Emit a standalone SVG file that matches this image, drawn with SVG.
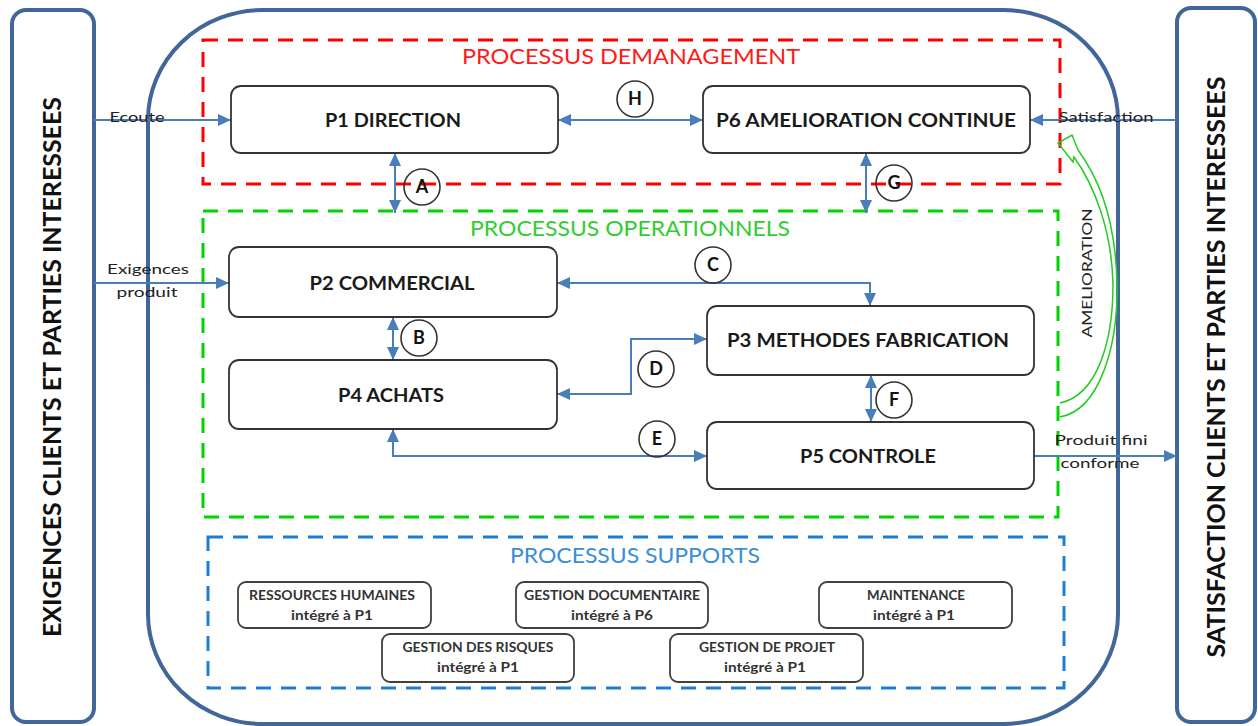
<svg xmlns="http://www.w3.org/2000/svg" width="1258" height="726" viewBox="0 0 1258 726">
<style>
  .panel{fill:#fff;stroke:#41679a;stroke-width:4}
  .node{fill:#fff;stroke:#333;stroke-width:1.8}
  .sup{fill:#fff;stroke:#404040;stroke-width:1.8}
  .nt{font-family:Lato,"Liberation Sans",sans-serif;font-weight:bold;font-size:18px;fill:#1a1a1a;text-anchor:middle}
  .st{font-family:Lato,"Liberation Sans",sans-serif;font-weight:bold;font-size:12.5px;fill:#333;text-anchor:middle}
  .lbl{font-family:Lato,"Liberation Sans",sans-serif;font-size:14px;fill:#222;text-anchor:middle}
  .ttl{font-family:Lato,"Liberation Sans",sans-serif;font-size:21px;text-anchor:middle}
  .side{font-family:Lato,"Liberation Sans",sans-serif;font-weight:bold;font-size:25px;fill:#111;text-anchor:middle}
  .conn{fill:none;stroke:#4a7ebb;stroke-width:2}
  .circ{fill:none;stroke:#333;stroke-width:1.6}
  .ct{font-family:Lato,"Liberation Sans",sans-serif;font-weight:bold;font-size:18px;fill:#111;text-anchor:middle}
</style>
<defs>
  <marker id="ah" markerUnits="userSpaceOnUse" markerWidth="13" markerHeight="12" refX="13" refY="6" orient="auto-start-reverse">
    <path d="M0,0 L13,6 L0,12 z" fill="#4a7ebb"/>
  </marker>
</defs>
<rect width="1258" height="726" fill="#fff"/>

<g id="panel-left">
  <rect class="panel" x="12" y="10" width="82" height="712" rx="14"/>
  <text class="side" transform="translate(61,367) rotate(-90)" textLength="540" lengthAdjust="spacingAndGlyphs">EXIGENCES CLIENTS ET PARTIES INTERESSEES</text>
</g>
<g id="panel-right">
  <rect class="panel" x="1177" y="8" width="78" height="714" rx="14"/>
  <text class="side" transform="translate(1225,367) rotate(-90)" textLength="581" lengthAdjust="spacingAndGlyphs">SATISFACTION CLIENTS ET PARTIES INTERESSEES</text>
</g>
<g id="main-border">
  <rect class="panel" x="148" y="10" width="970" height="714" rx="115" ry="110" fill="none"/>
</g>

<g id="group-management">
  <rect x="203" y="40" width="857" height="144" fill="none" stroke="#ff0000" stroke-width="3" stroke-dasharray="15,10"/>
  <text class="ttl" x="631" y="64" fill="#ff1a1a" textLength="338" lengthAdjust="spacingAndGlyphs">PROCESSUS DEMANAGEMENT</text>
</g>
<g id="group-operationnels">
  <rect x="203" y="211" width="855" height="306" fill="none" stroke="#00d400" stroke-width="3" stroke-dasharray="15,10"/>
  <text class="ttl" x="630" y="236" fill="#33cc33" textLength="320" lengthAdjust="spacingAndGlyphs">PROCESSUS OPERATIONNELS</text>
</g>
<g id="group-supports">
  <rect x="208" y="537" width="856" height="151" fill="none" stroke="#1a7fd4" stroke-width="3" stroke-dasharray="15,10"/>
  <text class="ttl" x="635" y="563" fill="#3a8ed6" textLength="250" lengthAdjust="spacingAndGlyphs">PROCESSUS SUPPORTS</text>
</g>

<g id="connectors">
  <line class="conn" x1="94" y1="120" x2="231" y2="120" marker-end="url(#ah)"/>
  <line class="conn" x1="94" y1="283" x2="229" y2="283" marker-end="url(#ah)"/>
  <line class="conn" x1="1177" y1="120" x2="1030" y2="120" marker-end="url(#ah)"/>
  <line class="conn" x1="1034" y1="456" x2="1177" y2="456" marker-end="url(#ah)"/>
  <line class="conn" x1="558" y1="120" x2="703" y2="120" marker-start="url(#ah)" marker-end="url(#ah)"/>
  <line class="conn" x1="395" y1="153" x2="395" y2="213" marker-start="url(#ah)" marker-end="url(#ah)"/>
  <line class="conn" x1="866" y1="153" x2="866" y2="213" marker-start="url(#ah)" marker-end="url(#ah)"/>
  <line class="conn" x1="393" y1="317" x2="393" y2="360" marker-start="url(#ah)" marker-end="url(#ah)"/>
  <line class="conn" x1="871" y1="375" x2="871" y2="422" marker-start="url(#ah)" marker-end="url(#ah)"/>
  <polyline class="conn" points="557,283 870,283 870,306" marker-start="url(#ah)" marker-end="url(#ah)"/>
  <polyline class="conn" points="557,394 631,394 631,339 707,339" marker-start="url(#ah)" marker-end="url(#ah)"/>
  <polyline class="conn" points="393,429 393,456 707,456" marker-start="url(#ah)" marker-end="url(#ah)"/>
  <path d="M1060 417 C1100 410 1118 345 1117 285 C1116 220 1098 177 1078 150 L1072 135 L1058 143 L1073 162 L1074 157 C1094 185 1112 230 1113 285 C1113 340 1098 395 1060 403" fill="none" stroke="#22cc22" stroke-width="1.5"/>
  <text class="lbl" x="137" y="122" textLength="55" lengthAdjust="spacingAndGlyphs">Ecoute</text>
  <text class="lbl" x="148" y="274" textLength="82" lengthAdjust="spacingAndGlyphs">Exigences</text>
  <text class="lbl" x="147" y="297" textLength="61" lengthAdjust="spacingAndGlyphs">produit</text>
  <text class="lbl" x="1106" y="122" textLength="95" lengthAdjust="spacingAndGlyphs">Satisfaction</text>
  <text class="lbl" x="1101" y="445" textLength="93" lengthAdjust="spacingAndGlyphs">Produit fini</text>
  <text class="lbl" x="1100" y="468" textLength="79" lengthAdjust="spacingAndGlyphs">conforme</text>
  <text class="lbl" transform="translate(1092,273) rotate(-90)" textLength="129" lengthAdjust="spacingAndGlyphs">AMELIORATION</text>
  <g id="marks">
    <circle class="circ" cx="635" cy="99" r="18"/><text class="ct" x="635" y="105">H</text>
    <circle class="circ" cx="422" cy="187" r="18"/><text class="ct" x="422" y="193">A</text>
    <circle class="circ" cx="894" cy="183" r="18"/><text class="ct" x="894" y="189">G</text>
    <circle class="circ" cx="419" cy="338" r="18"/><text class="ct" x="419" y="344">B</text>
    <circle class="circ" cx="713" cy="265" r="18"/><text class="ct" x="713" y="271">C</text>
    <circle class="circ" cx="656" cy="369" r="18"/><text class="ct" x="656" y="375">D</text>
    <circle class="circ" cx="657" cy="439" r="18"/><text class="ct" x="657" y="445">E</text>
    <circle class="circ" cx="894" cy="400" r="18"/><text class="ct" x="894" y="406">F</text>
  </g>
</g>

<g id="p1"><rect class="node" x="231" y="86" width="327" height="67" rx="10"/><text class="nt" x="393" y="127" textLength="136" lengthAdjust="spacingAndGlyphs">P1 DIRECTION</text></g>
<g id="p6"><rect class="node" x="703" y="86" width="327" height="67" rx="10"/><text class="nt" x="866" y="127" textLength="300" lengthAdjust="spacingAndGlyphs">P6 AMELIORATION  CONTINUE</text></g>
<g id="p2"><rect class="node" x="229" y="247" width="328" height="70" rx="10"/><text class="nt" x="392" y="290" textLength="165" lengthAdjust="spacingAndGlyphs">P2 COMMERCIAL</text></g>
<g id="p4"><rect class="node" x="229" y="360" width="328" height="69" rx="10"/><text class="nt" x="391" y="402" textLength="106" lengthAdjust="spacingAndGlyphs">P4 ACHATS</text></g>
<g id="p3"><rect class="node" x="707" y="306" width="327" height="69" rx="10"/><text class="nt" x="868" y="347" textLength="282" lengthAdjust="spacingAndGlyphs">P3 METHODES  FABRICATION</text></g>
<g id="p5"><rect class="node" x="707" y="422" width="327" height="67" rx="10"/><text class="nt" x="868" y="463" textLength="136" lengthAdjust="spacingAndGlyphs">P5 CONTROLE</text></g>

<g id="s-rh"><rect class="sup" x="238" y="582" width="193" height="46" rx="8"/><text class="st" x="332" y="600" textLength="166" lengthAdjust="spacingAndGlyphs">RESSOURCES  HUMAINES</text><text class="st" x="332" y="620" textLength="82" lengthAdjust="spacingAndGlyphs">intégré à P1</text></g>
<g id="s-doc"><rect class="sup" x="516" y="582" width="192" height="46" rx="8"/><text class="st" x="612" y="600" textLength="176" lengthAdjust="spacingAndGlyphs">GESTION  DOCUMENTAIRE</text><text class="st" x="612" y="620" textLength="82" lengthAdjust="spacingAndGlyphs">intégré à P6</text></g>
<g id="s-maint"><rect class="sup" x="819" y="582" width="193" height="46" rx="8"/><text class="st" x="916" y="600" textLength="98" lengthAdjust="spacingAndGlyphs">MAINTENANCE</text><text class="st" x="914" y="620" textLength="82" lengthAdjust="spacingAndGlyphs">intégré à P1</text></g>
<g id="s-risk"><rect class="sup" x="382" y="634" width="192" height="48" rx="8"/><text class="st" x="478" y="652" textLength="151" lengthAdjust="spacingAndGlyphs">GESTION  DES RISQUES</text><text class="st" x="478" y="672" textLength="82" lengthAdjust="spacingAndGlyphs">intégré à P1</text></g>
<g id="s-proj"><rect class="sup" x="670" y="634" width="193" height="48" rx="8"/><text class="st" x="767" y="652" textLength="136" lengthAdjust="spacingAndGlyphs">GESTION  DE PROJET</text><text class="st" x="765" y="672" textLength="82" lengthAdjust="spacingAndGlyphs">intégré à P1</text></g>
</svg>
